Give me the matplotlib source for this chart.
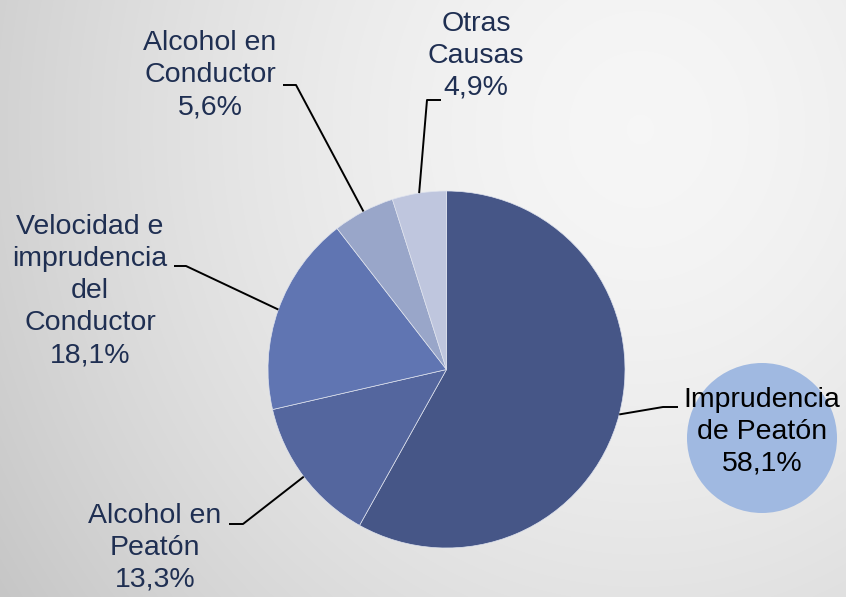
import numpy as np
import matplotlib
matplotlib.use("Agg")
import matplotlib.pyplot as plt
from matplotlib.patches import Circle

# ---- data ----
labels = ["Imprudencia\nde Peatón", "Alcohol en\nPeatón", "Velocidad e\nimprudencia\ndel\nConductor",
          "Alcohol en\nConductor", "Otras\nCausas"]
values = [58.1, 13.3, 18.1, 5.6, 4.9]
pct_text = ["58,1%", "13,3%", "18,1%", "5,6%", "4,9%"]
colors = ["#465687", "#54669e", "#6075b2", "#99a6c9", "#bfc6de"]

W, H = 846, 597
fig = plt.figure(figsize=(W / 100, H / 100), dpi=100)
ax = fig.add_axes([0, 0, 1, 1])
ax.set_xlim(0, W)
ax.set_ylim(0, H)
ax.axis("off")

# background gradient
yy, xx = np.mgrid[0:H, 0:W]
d = np.sqrt(((xx - 640) / 640.0) ** 2 + ((yy - (H - 130)) / 700.0) ** 2)
v = 0.965 - 0.14 * np.clip(d, 0, 1.3) ** 1.6
ax.imshow(np.dstack([v, v, v]), extent=(0, W, 0, H), origin="lower", zorder=0, aspect="auto")

plt.rcParams["font.family"] = ["Liberation Sans", "DejaVu Sans"]

cx, cy, R = 446.5, H - 369.5, 178.5
wedges, _ = ax.pie(values, colors=colors, startangle=90, counterclock=False,
                   center=(cx, cy), radius=R, frame=True,
                   wedgeprops=dict(edgecolor="#dfe3ee", linewidth=0.5))
ax.set_xlim(0, W)
ax.set_ylim(0, H)
ax.set_aspect("equal")
ax.axis("off")

# highlight circle behind main label
ax.add_patch(Circle((762, H - 438), 75, facecolor="#a0b9e1", edgecolor="none", zorder=1))

# label placement: (elbow point, end of horizontal, text center x, text center y, color)
placements = [
    ((663, 407), (678, 407), 762, 432, "black"),
    ((243, 524), (229, 524), 155, 548, "#1f2f52"),
    ((186, 266), (174, 266), 90, 291, "#1f2f52"),
    ((296, 85), (283, 85), 210, 75, "#1f2f52"),
    ((427, 100), (441, 100), 476, 56, "#1f2f52"),
]

for w, lab, pt, (elbow, end, tx, ty, tc) in zip(wedges, labels, pct_text, placements):
    ang = np.deg2rad((w.theta1 + w.theta2) / 2)
    sx, sy = cx + R * np.cos(ang), cy + R * np.sin(ang)
    ax.plot([sx, elbow[0], end[0]], [sy, H - elbow[1], H - end[1]],
            color="black", lw=1.4, zorder=3, solid_capstyle="butt")
    ax.text(tx, H - ty, lab + "\n" + pt, ha="center", va="center", fontsize=20.5,
            color=tc, linespacing=1.3, zorder=4)

fig.savefig("out.png", dpi=100)
